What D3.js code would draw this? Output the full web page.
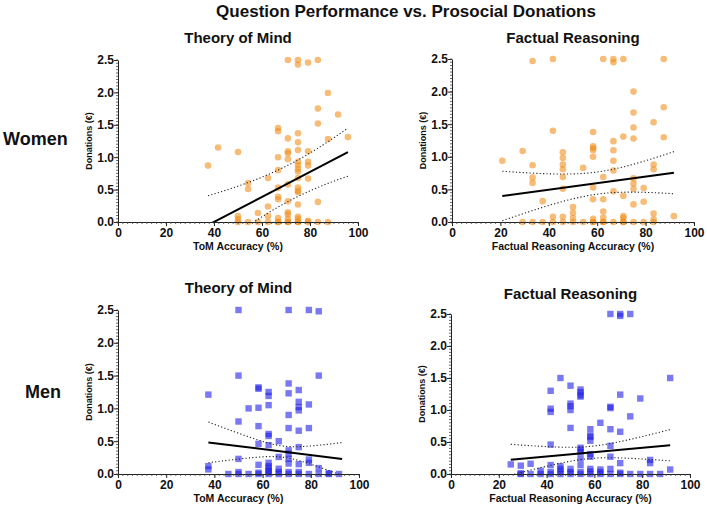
<!DOCTYPE html>
<html><head><meta charset="utf-8">
<script src="https://cdn.jsdelivr.net/npm/d3@7"></script>
<style>
body{margin:0;background:#fff;}
text{font-family:"Liberation Sans",Arial,sans-serif;font-weight:bold;fill:#111;}
</style></head>
<body><svg id="c" width="707" height="506"></svg>
<script>
// ---------- DATA ----------
const xTicks = [0, 20, 40, 60, 80, 100];
const yTicks = [0.0, 0.5, 1.0, 1.5, 2.0, 2.5];
const rowLabels = ["Women", "Men"];
const panelTitles = ["Theory of Mind", "Factual Reasoning", "Theory of Mind", "Factual Reasoning"];
const xTitles = ["ToM Accuracy (%)", "Factual Reasoning Accuracy (%)", "ToM Accuracy (%)", "Factual Reasoning Accuracy (%)"];
const yTitle = "Donations (€)";
const mainTitle = "Question Performance vs. Prosocial Donations";

const womenToM = [[70.8,2.5],[75,2.5],[75,2.43],[79.2,2.46],[83.3,2.5],
[87.5,1.99],[83.3,1.75],[91.7,1.66],[83.3,1.52],[95.8,1.31],[87.5,1.28],
[66.7,1.45],[66.7,1.40],[70.8,1.29],[75,1.37],[75,1.23],[75,1.11],[79.2,1.09],[70.8,1.09],[70.8,1.06],[70.8,0.97],[66.7,1.0],
[41.7,1.15],[50,1.08],[37.5,0.87],
[75,0.93],[75,0.88],[75,0.82],[75,0.78],[79.2,0.93],[79.2,0.87],[66.7,0.8],
[62.5,0.68],[75,0.68],[79.2,0.67],[54.2,0.6],[54.2,0.51],[66.7,0.53],[70.8,0.58],
[75,0.53],[75,0.48],[75,0.46],[66.7,0.39],[66.7,0.35],[70.8,0.32],[75,0.27],[83.3,0.31],[62.5,0.24],
[70.8,0.15],[70.8,0.12],[58.3,0.14],[50,0.09],[50,0.04],[62.5,0.09],[66.7,0.06],[70.8,0.05],[75,0.08],[75,0.05],[79.2,0.02],
[50,0],[54.2,0],[58.3,0],[62.5,0],[66.7,0],[66.7,0],[70.8,0],[70.8,0],[75,0],[75,0],[79.2,0],[83.3,0],[87.5,0]];

const womenFR = [[33.3,2.47],[41.7,2.5],[62.5,2.5],[66.7,2.5],[66.7,2.45],[70.8,2.5],[87.5,2.5],
[75,2.0],[75,1.68],[87.5,1.76],[83.3,1.53],[41.7,1.40],[75,1.45],[75,1.28],[70.8,1.31],[66.7,1.24],
[58.3,1.38],[58.3,1.16],[58.3,1.13],[58.3,1.10],[58.3,1.0],[87.5,1.30],[66.7,1.10],[66.7,0.94],
[29.2,1.09],[20.8,0.94],[45.8,1.07],[45.8,0.98],[45.8,0.88],[45.8,0.81],[33.3,0.87],[54.2,0.83],[66.7,0.79],
[83.3,0.88],[83.3,0.81],[33.3,0.68],[33.3,0.60],[45.8,0.69],[62.5,0.69],[75,0.67],[75,0.59],[75,0.51],[79.2,0.52],
[45.8,0.51],[58.3,0.53],[37.5,0.32],[58.3,0.35],[62.5,0.35],[70.8,0.40],[66.7,0.47],[75,0.27],[79.2,0.31],
[50,0.23],[50,0.14],[62.5,0.16],[83.3,0.13],[91.7,0.09],
[41.7,0.08],[45.8,0.08],[50,0.06],[58.3,0.05],[62.5,0.07],[70.8,0.09],[70.8,0.06],
[29.2,0],[33.3,0],[37.5,0],[41.7,0],[45.8,0],[50,0],[54.2,0],[58.3,0],[58.3,0],[62.5,0],[62.5,0],[66.7,0],[70.8,0],[70.8,0],[75,0],[79.2,0],[83.3,0],[83.3,0.04]];

const menToM = [[50,2.5],[70.8,2.5],[79.2,2.5],[83.3,2.48],[50,1.5],[83.3,1.5],[37.5,1.21],[58.3,1.32],[58.3,1.30],[62.5,1.25],[62.5,1.19],
[70.8,1.38],[70.8,1.23],[75,1.28],[75,1.10],[75,1.02],[75,0.97],[79.2,1.06],[54.2,1.0],[58.3,1.01],[62.5,1.05],
[70.8,0.90],[50,0.80],[58.3,0.73],[70.8,0.70],[75,0.66],[79.2,0.70],[62.5,0.61],[62.5,0.58],[66.7,0.50],[58.3,0.46],[62.5,0.44],
[70.8,0.36],[70.8,0.31],[70.8,0.23],[70.8,0.16],[75,0.41],[50,0.23],[62.5,0.17],[62.5,0.12],[62.5,0.09],[66.7,0.26],[66.7,0.08],
[75,0.15],[79.2,0.22],[79.2,0.17],[83.3,0.09],[37.5,0.12],[37.5,0.07],[58.3,0.14],
[45.8,0],[50,0],[50,0.03],[54.2,0],[58.3,0],[58.3,0.02],[62.5,0],[62.5,0.03],[62.5,0.05],[66.7,0],[66.7,0.03],[70.8,0],[70.8,0.03],[75,0],[75,0.03],[79.2,0],[83.3,0],[87.5,0],[87.5,0.01],[91.7,0]];

const menFR = [[66.7,2.5],[70.8,2.5],[70.8,2.47],[75,2.5],[45.8,1.5],[91.7,1.5],[41.7,1.30],[50,1.38],[54.2,1.32],[54.2,1.28],[54.2,1.23],[54.2,1.21],
[41.7,1.02],[41.7,0.97],[50,1.10],[50,1.06],[50,1.0],[66.7,1.05],[66.7,1.03],[70.8,1.24],[79.2,1.18],[75,0.90],
[50,0.72],[62.5,0.80],[58.3,0.70],[66.7,0.70],[70.8,0.66],[58.3,0.60],[58.3,0.58],[58.3,0.52],[41.7,0.46],[66.7,0.44],
[54.2,0.41],[54.2,0.38],[54.2,0.34],[58.3,0.31],[58.3,0.27],[66.7,0.27],[54.2,0.24],[83.3,0.22],[83.3,0.17],[70.8,0.17],
[25,0.15],[29.2,0.13],[33.3,0.16],[41.7,0.14],[45.8,0.12],[45.8,0.08],[50,0.08],[54.2,0.14],[58.3,0.08],[62.5,0.07],[66.7,0.08],[91.7,0.07],
[37.5,0.05],[45.8,0.04],[58.3,0.04],[62.5,0.03],
[29.2,0],[29.2,0.01],[33.3,0],[37.5,0],[41.7,0],[41.7,0.03],[45.8,0],[50,0],[50,0.03],[54.2,0],[54.2,0.03],[58.3,0],[62.5,0],[66.7,0],[70.8,0],[70.8,0.02],[75,0],[79.2,0],[83.3,0],[87.5,0]];

// regression fits: [xMin, xMax, intercept, slope, ciMinHalfWidth, ciGrowth, ciCentreX]
const womenToMFit = [37.5, 95.8, -0.771, 0.0193, 0.28, 0.01025, 72];
const womenFRFit  = [20.8, 91.7, 0.295, 0.00503, 0.17, 0.00866, 60];
const menToMFit   = [37.5, 93.0, 0.652, -0.004545, 0.085, 0.0096, 68.5];
const menFRFit    = [25.0, 91.7, 0.139, 0.00339, 0.095, 0.00668, 58];

// ---------- LAYOUT ----------
const svg = d3.select("#c");
const panels = [
  {data: womenToM, fit: womenToMFit, x0:118, x1:358, y0:222, y1:60, shape:"circle"},
  {data: womenFR,  fit: womenFRFit,  x0:452, x1:694, y0:222, y1:59, shape:"circle"},
  {data: menToM,   fit: menToMFit,   x0:118, x1:359, y0:474, y1:310, shape:"square"},
  {data: menFR,    fit: menFRFit,    x0:451, x1:690, y0:474, y1:314, shape:"square"}
];
const titleY = [43, 43, 293, 299];
const xTitleY = [250, 250, 502, 502];

svg.append("text").attr("x", 406).attr("y", 17).attr("text-anchor","middle")
  .style("font-size","17px").text(mainTitle);
svg.append("text").attr("x", 3).attr("y", 145).style("font-size","18px").text(rowLabels[0]);
svg.append("text").attr("x", 25).attr("y", 398).style("font-size","18px").text(rowLabels[1]);

panels.forEach((p, i) => {
  const x = d3.scaleLinear().domain([0,100]).range([p.x0, p.x1]);
  const y = d3.scaleLinear().domain([0,2.5]).range([p.y0, p.y1]);
  const g = svg.append("g");

  g.append("text").attr("x", (p.x0+p.x1)/2).attr("y", titleY[i]).attr("text-anchor","middle")
    .style("font-size","15px").text(panelTitles[i]);
  g.append("text").attr("x", (p.x0+p.x1)/2).attr("y", xTitleY[i]).attr("text-anchor","middle")
    .style("font-size","10.5px").text(xTitles[i]);
  g.append("text").attr("transform", `translate(${p.x0-26},${(p.y0+p.y1)/2}) rotate(-90)`)
    .attr("text-anchor","middle").style("font-size","9px").text(yTitle);

  const col = p.shape === "circle" ? "#f0901e" : "#1f1fe8";
  if (p.shape === "circle") {
    g.append("g").selectAll("circle").data(p.data).join("circle")
      .attr("cx", d => x(d[0])).attr("cy", d => y(d[1])).attr("r", 3.3)
      .attr("fill", col).attr("fill-opacity", 0.6);
  } else {
    g.append("g").selectAll("rect").data(p.data).join("rect")
      .attr("x", d => x(d[0]) - 3.2).attr("y", d => y(d[1]) - 3.2)
      .attr("width", 6.4).attr("height", 6.4)
      .attr("fill", col).attr("fill-opacity", 0.6);
  }

  const cid = "clip" + i;
  svg.append("clipPath").attr("id", cid).append("rect")
    .attr("x", p.x0).attr("y", p.y1 - 2).attr("width", p.x1 - p.x0 + 2).attr("height", p.y0 - p.y1 + 2);
  const [xa, xb, b0, b1, h0, k, m] = p.fit;
  const xs = d3.range(xa, xb + 0.001, (xb - xa) / 60);
  const fitY = v => b0 + b1 * v;
  const hw = v => Math.sqrt(h0*h0 + k*k*(v - m)*(v - m));
  const line = d3.line().x(d => x(d[0])).y(d => y(d[1]));
  const fg = g.append("g").attr("clip-path", `url(#${cid})`);
  fg.append("path").attr("d", line(xs.map(v => [v, fitY(v) + hw(v)])))
    .attr("fill","none").attr("stroke","#222").attr("stroke-width",1.1).attr("stroke-dasharray","1.2,2.2");
  fg.append("path").attr("d", line(xs.map(v => [v, fitY(v) - hw(v)])))
    .attr("fill","none").attr("stroke","#222").attr("stroke-width",1.1).attr("stroke-dasharray","1.2,2.2");
  fg.append("path").attr("d", line([[xa, fitY(xa)], [xb, fitY(xb)]]))
    .attr("fill","none").attr("stroke","#000").attr("stroke-width",2);

  const ya = g.append("g").attr("transform", `translate(${p.x0},0)`)
    .call(d3.axisLeft(y).tickValues(yTicks).tickFormat(d3.format(".1f")).tickSize(4).tickSizeOuter(0));
  const xa_ = g.append("g").attr("transform", `translate(0,${p.y0})`)
    .call(d3.axisBottom(x).tickValues(xTicks).tickSize(4).tickSizeOuter(0));
  [ya, xa_].forEach(a => {
    a.selectAll("text").style("font-size","12px").style("font-family","'Liberation Sans',Arial,sans-serif")
      .style("font-weight","bold").attr("fill","#111");
    a.selectAll("line,path").attr("stroke","#222").attr("stroke-width",1);
  });
  ya.selectAll("text").attr("x", -4);
  xa_.selectAll("text").attr("y", 6);
  g.append("g").selectAll("line").data(d3.range(0, 2.5001, 0.05)).join("line")
    .attr("x1", p.x0 - 2).attr("x2", p.x0).attr("y1", d => y(d)).attr("y2", d => y(d))
    .attr("stroke","#444").attr("stroke-width",0.8);
  g.append("g").selectAll("line").data(d3.range(0, 100.001, 2)).join("line")
    .attr("x1", d => x(d)).attr("x2", d => x(d)).attr("y1", p.y0).attr("y2", p.y0 + 2)
    .attr("stroke","#444").attr("stroke-width",0.8);
});
</script></body></html>
